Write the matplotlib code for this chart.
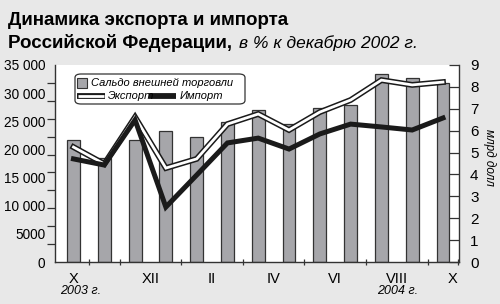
import numpy as np
import matplotlib
matplotlib.use('Agg')
from matplotlib import pyplot as plt
from matplotlib.patches import FancyBboxPatch, Rectangle
from matplotlib.lines import Line2D

# monthly data, X 2003 .. X 2004
saldo = [21700, 18500, 21700, 23300, 22200, 24900, 27000, 24500, 27400, 27900, 33400, 32700, 31800]
export = [5.25, 4.48, 6.62, 4.29, 4.71, 6.30, 6.76, 6.03, 6.85, 7.40, 8.31, 8.09, 8.22]
imports = [4.71, 4.43, 6.49, 2.51, 3.97, 5.44, 5.66, 5.16, 5.85, 6.30, 6.17, 6.03, 6.58]
month_labels = ['X', 'XII', 'II', 'IV', 'VI', 'VIII', 'X']
month_pos = [0, 2.5, 4.5, 6.5, 8.5, 10.5, 12.3]
left_ticks = [0, 5000, 10000, 15000, 20000, 25000, 30000, 35000]
left_labels = ['0', '5000', '10 000', '15 000', '20 000', '25 000', '30 000', '35 000']

FONT = ['Liberation Sans', 'DejaVu Sans']
plt.rcParams['font.family'] = FONT
BG = '#e8e8e8'
W, H = 500, 304


def fx(x):
    return x / W


def fy(y):
    return 1 - y / H


fig = plt.figure(figsize=(5, 3.04), dpi=100, facecolor=BG)
ax = fig.add_axes([fx(55), fy(262), fx(459) - fx(55), fy(65) - fy(262)])
ax.set_facecolor('white')
x = np.arange(len(saldo))

ax.bar(x, saldo, width=0.42, color='#a6a6aa', edgecolor='#333333', linewidth=0.9, zorder=2)
ax.set_xlim(-0.6, 12.52)
ax.set_ylim(0, 35000)
ax.set_yticks(left_ticks)
ax.set_yticklabels(left_labels, fontsize=9.8)
ax.set_yticks(np.linspace(0, 35000, 12), minor=True)
ax.tick_params(axis='y', which='major', length=0, pad=7)
ax.tick_params(axis='y', which='minor', length=6, width=0.9, direction='out', color='#333333')
ax.set_xticks(month_pos)
ax.set_xticklabels(month_labels, fontsize=10.5)
ax.set_xticks(x + 0.5, minor=True)
ax.tick_params(axis='x', which='major', length=0, pad=7)
ax.tick_params(axis='x', which='minor', length=5, width=0.9, direction='inout', color='#333333')
ax.spines['top'].set_visible(False)
ax.spines['right'].set_visible(False)
for s in ['left', 'bottom']:
    ax.spines[s].set_linewidth(1.0)
    ax.spines[s].set_color('#333333')

ax2 = ax.twinx()
ax2.set_ylim(0, 9)
ax2.set_yticks(range(10))
ax2.tick_params(axis='y', length=7, width=0.9, direction='in', pad=8, labelsize=11, color='#333333')
for s in ['top', 'left', 'bottom']:
    ax2.spines[s].set_visible(False)
ax2.spines['right'].set_linewidth(1.0)
ax2.spines['right'].set_color('#333333')
ax2.plot(x, export, color='#1a1a1a', lw=4.2, solid_joinstyle='miter', zorder=3)
ax2.plot(x, export, color='white', lw=2.0, solid_joinstyle='miter', zorder=4)
ax2.plot(x, imports, color='#1a1a1a', lw=3.6, solid_joinstyle='miter', zorder=5)
ax2.text(1.075, 0.53, 'млрд долл', transform=ax2.transAxes, rotation=-90, fontsize=8.5,
         style='italic', ha='center', va='center')

# year labels
ax.text(fx(81), fy(291), '2003 г.', transform=fig.transFigure, fontsize=9, style='italic',
        ha='center', va='center')
ax.text(fx(398), fy(291), '2004 г.', transform=fig.transFigure, fontsize=9, style='italic',
        ha='center', va='center')

# title
t1 = fig.text(fx(8), fy(25), 'Динамика экспорта и импорта', fontsize=13.5, fontweight='bold',
              ha='left', va='baseline')
t2 = fig.text(fx(8), fy(48), 'Российской Федерации,', fontsize=13.5, fontweight='bold',
              ha='left', va='baseline')
fig.canvas.draw()
bb = t2.get_window_extent()
fig.text(bb.x1 / W + fx(7), fy(48), 'в % к декабрю 2002 г.', fontsize=12.5, style='italic',
         ha='left', va='baseline')

# legend drawn by hand
box = FancyBboxPatch((fx(75), fy(104)), fx(245) - fx(75), fy(74) - fy(104),
                     boxstyle='round,pad=0,rounding_size=0.012', transform=fig.transFigure,
                     facecolor='white', edgecolor='#333333', linewidth=0.9, zorder=10)
fig.patches.append(box)
fig.patches.append(Rectangle((fx(77), fy(88)), fx(10), fx(10) * W / H, transform=fig.transFigure,
                             facecolor='#a6a6aa', edgecolor='#333333', linewidth=0.8, zorder=11))
fig.text(fx(91), fy(83), 'Сальдо внешней торговли', fontsize=8, style='italic', va='center',
         ha='left', zorder=11)
fig.lines.append(Line2D([fx(77), fx(105)], [fy(96), fy(96)], transform=fig.transFigure,
                        color='#1a1a1a', lw=4.2, solid_capstyle='butt', zorder=11))
fig.lines.append(Line2D([fx(77.8), fx(104.2)], [fy(96), fy(96)], transform=fig.transFigure,
                        color='white', lw=2.0, solid_capstyle='butt', zorder=12))
fig.text(fx(108), fy(96), 'Экспорт', fontsize=8, style='italic', va='center', ha='left', zorder=11)
fig.lines.append(Line2D([fx(149), fx(176)], [fy(96), fy(96)], transform=fig.transFigure,
                        color='#1a1a1a', lw=4.2, solid_capstyle='butt', zorder=11))
fig.text(fx(180), fy(96), 'Импорт', fontsize=8, style='italic', va='center', ha='left', zorder=11)

fig.savefig('out.png', dpi=100, facecolor=BG)
